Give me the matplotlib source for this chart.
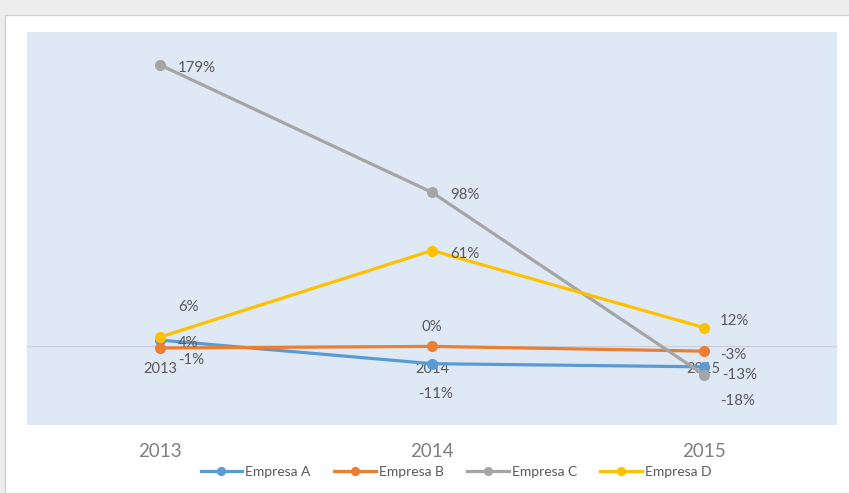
import matplotlib.pyplot as plt
from matplotlib.patches import Rectangle

plt.rcParams['font.family'] = ['Lato', 'DejaVu Sans']

# variation by year for each company
years = ['2013', '2014', '2015']
empresa_a = [4, -11, -13]
empresa_b = [-1, 0, -3]
empresa_c = [179, 98, -18]
empresa_d = [6, 61, 12]

series = [('Empresa A', empresa_a, '#5B9BD5'),
          ('Empresa B', empresa_b, '#ED7D31'),
          ('Empresa C', empresa_c, '#A5A5A5'),
          ('Empresa D', empresa_d, '#FFC000')]

# label offsets (pixels) per series and point
offsets = {
    'Empresa A': [(18, -3), (4, -30), (18, -8)],
    'Empresa B': [(18, -12), (0, 19), (16, -4)],
    'Empresa C': [(18, -3), (18, -3), (16, -26)],
    'Empresa D': [(18, 30), (18, -3), (16, 7)],
}

W, H = 849, 493
fig = plt.figure(figsize=(W / 100, H / 100), dpi=100)
fig.patch.set_facecolor('#ededed')
fig.patches.append(Rectangle((5 / W, 0), 1, 1 - 15 / H, transform=fig.transFigure,
                             facecolor='white', edgecolor='#d0d0d0', lw=1, zorder=-10))

ax = fig.add_axes([27 / W, 1 - 425 / H, 810 / W, 393 / H])
ax.set_facecolor('#DEE9F5')
x = list(range(len(years)))

ax.axhline(0, color='#c8cfd8', lw=0.8, zorder=1)

for name, vals, col in series:
    ax.plot(x, vals, color=col, lw=2.3, marker='o', markersize=7, label=name, zorder=3)
    for i, v in enumerate(vals):
        dx, dy = offsets[name][i]
        ax.annotate(f'{v}%', (x[i], v), xytext=(dx, dy), textcoords='offset pixels',
                    ha='left' if dx > 8 else 'center', va='center',
                    fontsize=10.8, color='#595959', zorder=4)

# category labels drawn along the zero line
for i, yr in enumerate(years):
    ax.annotate(yr, (x[i], 0), xytext=(0, -23), textcoords='offset pixels',
                ha='center', va='center', fontsize=10.5, color='#595959', zorder=2)

ax.set_xlim(-0.49, 2.49)
ax.set_ylim(-50, 200)
ax.set_xticks(x)
ax.set_xticklabels(years, fontsize=13.5, color='#7f7f7f')
ax.tick_params(axis='x', length=0, pad=13)
ax.set_yticks([])
for s in ax.spines.values():
    s.set_visible(False)

ax.legend(loc='center', bbox_to_anchor=(456 / W, 1 - 472 / H), bbox_transform=fig.transFigure,
          ncol=4, frameon=False, fontsize=10, labelcolor='#595959', handlelength=3.0,
          columnspacing=1.7, handletextpad=0.2, markerscale=0.8)

plt.savefig('out.png', dpi=100, facecolor=fig.get_facecolor())
